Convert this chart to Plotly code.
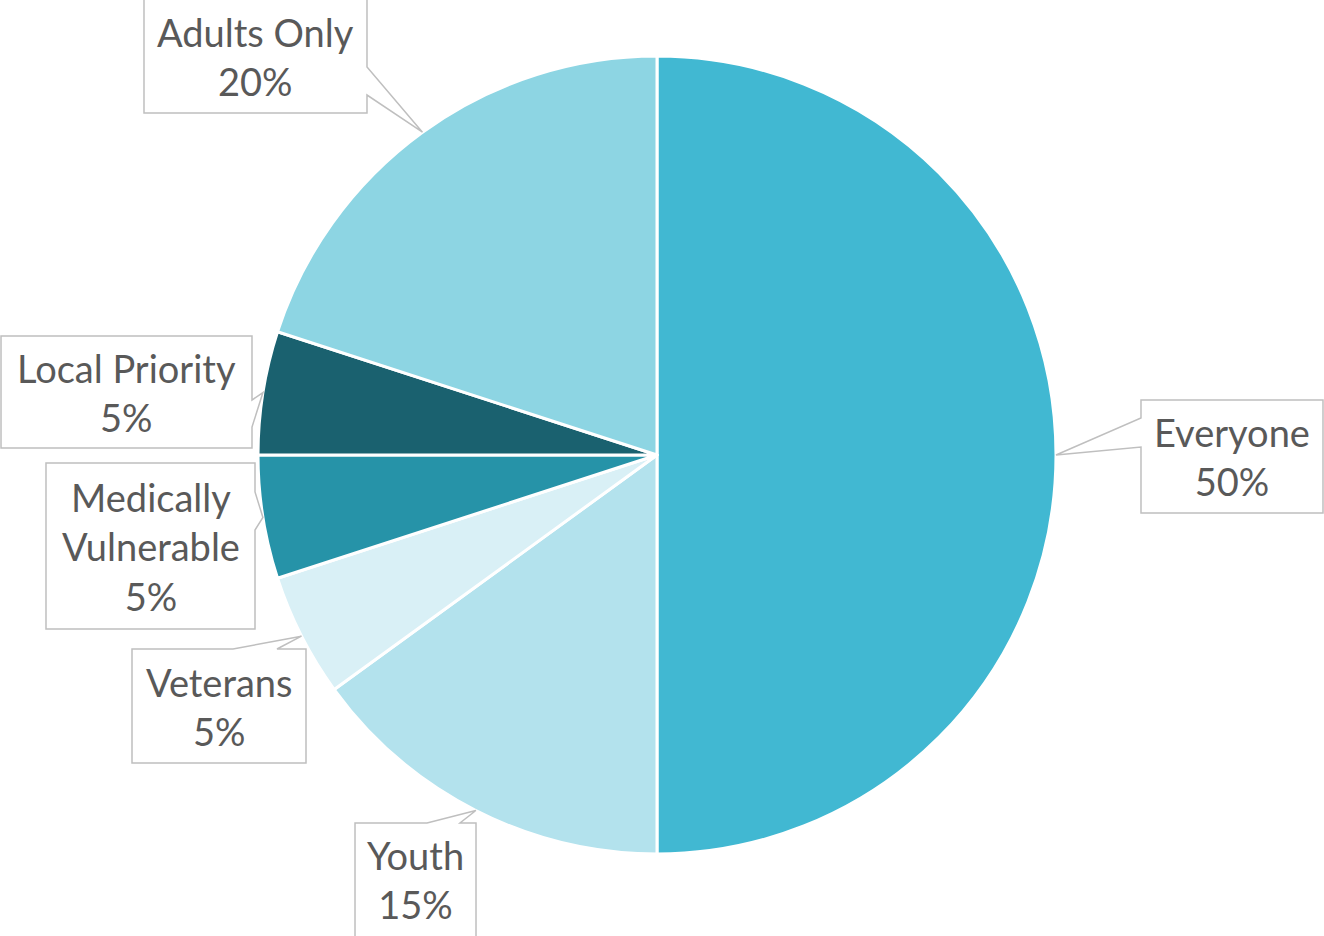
import math
import plotly.graph_objects as go

W, H = 1324, 936

labels = ["Everyone", "Youth", "Veterans", "Medically Vulnerable", "Local Priority", "Adults Only"]
values = [50, 15, 5, 5, 5, 20]
colors = ["#41B8D2", "#B3E2ED", "#D9F0F6", "#2693A8", "#1A616F", "#8DD5E3"]
label_text = ["Everyone", "Youth", "Veterans", "Medically<br>Vulnerable", "Local Priority", "Adults Only"]

# Pie geometry (pixels)
CX, CY, R = 657, 455, 399

# callout layout: box (x0, y0, x1, y1), side of wedge, wedge base (two coords along side)
callouts = [
    dict(box=(1141, 400, 1323, 513), side="left", base=(418, 447)),
    dict(box=(355, 823, 476, 940), side="top", base=(427, 460)),
    dict(box=(132, 649, 306, 763), side="top", base=(233, 277)),
    dict(box=(46, 463, 255, 629), side="right", base=(492, 530)),
    dict(box=(1, 336, 252, 448), side="right", base=(400, 427)),
    dict(box=(144, -2, 367, 113), side="right", base=(67, 95)),
]


def px(x, y):
    return x / W, 1 - y / H


def path_of(pts):
    s = ""
    for i, (x, y) in enumerate(pts):
        u, v = px(x, y)
        s += ("M" if i == 0 else " L") + f" {u:.5f} {v:.5f}"
    return s + " Z"


fig = go.Figure(go.Pie(
    labels=labels, values=values, sort=False, direction="clockwise", rotation=0,
    marker=dict(colors=colors, line=dict(color="white", width=3)),
    textinfo="none", hoverinfo="label+percent", showlegend=False,
    domain=dict(x=[(CX - R) / W, (CX + R) / W], y=[1 - (CY + R) / H, 1 - (CY - R) / H]),
))

total = sum(values)
cum = 0
shapes = []
annotations = []
for lab, txt, v, c in zip(labels, label_text, values, callouts):
    mid = (cum + v / 2) / total * 2 * math.pi
    cum += v
    tip = (CX + R * math.sin(mid), CY - R * math.cos(mid))
    x0, y0, x1, y1 = c["box"]
    a, b = c["base"]
    if c["side"] == "right":
        pts = [(x0, y0), (x1, y0), (x1, a), tip, (x1, b), (x1, y1), (x0, y1)]
    elif c["side"] == "left":
        pts = [(x0, y0), (x1, y0), (x1, y1), (x0, y1), (x0, b), tip, (x0, a)]
    else:
        pts = [(x0, y0), (a, y0), tip, (b, y0), (x1, y0), (x1, y1), (x0, y1)]
    shapes.append(dict(type="path", xref="paper", yref="paper", path=path_of(pts),
                       fillcolor="white", line=dict(color="#BFBFBF", width=1.5), layer="above"))
    cx_, cy_ = px((x0 + x1) / 2, (max(y0, 0) + min(y1, 936)) / 2)
    pct = f"{round(v / total * 100)}%"
    annotations.append(dict(x=cx_, y=cy_, xref="paper", yref="paper", xanchor="center", yanchor="middle",
                            text=f"{txt}<br>{pct}", showarrow=False,
                            font=dict(family="Lato", size=38, color="#595959")))

fig.update_layout(
    width=W, height=H, margin=dict(l=0, r=0, t=0, b=0),
    paper_bgcolor="white", plot_bgcolor="white",
    shapes=shapes, annotations=annotations,
)

fig.write_html("out.html", config={"displayModeBar": False},
               post_script="document.body.style.margin='0';")
